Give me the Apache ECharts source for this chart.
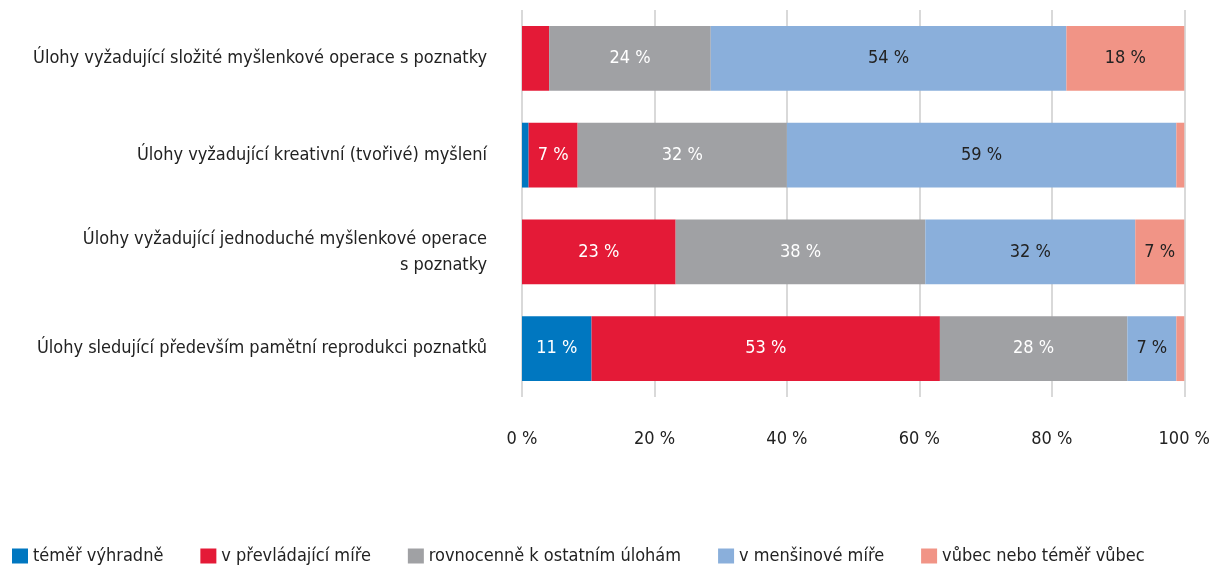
<!DOCTYPE html>
<html>
<head>
<meta charset="utf-8">
<script src="https://cdn.jsdelivr.net/npm/echarts@6/dist/echarts.min.js"></script>
<style>
  html, body { margin: 0; padding: 0; background: #fff; }
  #chart { width: 1213px; height: 570px; }
</style>
</head>
<body>
<div id="chart"></div>
<script>
const categories = [
  'Úlohy vyžadující složité myšlenkové operace s poznatky',
  'Úlohy vyžadující kreativní (tvořivé) myšlení',
  'Úlohy vyžadující jednoduché myšlenkové operace\ns poznatky',
  'Úlohy sledující především pamětní reprodukci poznatků'
]
const seriesNames = [
  'téměř výhradně',
  'v převládající míře',
  'rovnocenně k ostatním úlohám',
  'v menšinové míře',
  'vůbec nebo téměř vůbec'
]
const temerVyhradne = [0, 1.0, 0, 10.5]
const vPrevladajici = [4.1, 7.4, 23.2, 52.6]
const rovnocenne = [24.4, 31.6, 37.7, 28.3]
const vMensinove = [53.7, 58.8, 31.7, 7.4]
const vubecNe = [17.8, 1.2, 7.4, 1.2]
const xTicks = [0, 20, 40, 60, 80, 100]

const FONT = "'Liberation Sans Narrow', 'DejaVu Sans Condensed', sans-serif"
const colors = ['#0077c0', '#e41a37', '#a0a1a4', '#8aafdb', '#f19486']
const labelColors = ['#fff', '#fff', '#fff', '#222', '#222']
const values = [temerVyhradne, vPrevladajici, rovnocenne, vMensinove, vubecNe]

const chart = echarts.init(document.getElementById('chart'))

chart.setOption({
  animation: false,
  color: colors,
  textStyle: { fontFamily: FONT },
  grid: { left: 522, right: 26, top: 10, bottom: 173 },
  legend: {
    left: 7,
    bottom: 0,
    itemWidth: 16,
    itemHeight: 15,
    itemGap: 37,
    icon: 'rect',
    textStyle: { fontFamily: FONT, fontSize: 18, color: '#222' },
    data: seriesNames
  },
  xAxis: {
    type: 'value',
    min: xTicks[0],
    max: xTicks[xTicks.length - 1],
    interval: 20,
    axisLine: { show: false },
    axisTick: { show: false },
    splitLine: { lineStyle: { color: '#d9d9d9', width: 2 } },
    axisLabel: {
      formatter: v => v + ' %',
      fontFamily: FONT,
      fontSize: 18,
      color: '#222',
      margin: 33
    }
  },
  yAxis: {
    type: 'category',
    inverse: true,
    data: categories,
    axisLine: { show: false },
    axisTick: { show: false },
    axisLabel: {
      fontFamily: FONT,
      fontSize: 18,
      color: '#222',
      margin: 35,
      lineHeight: 26
    }
  },
  series: seriesNames.map((name, i) => ({
    name,
    type: 'bar',
    stack: 'total',
    barWidth: '67%',
    data: values[i],
    label: {
      show: true,
      position: 'inside',
      fontFamily: FONT,
      fontSize: 18,
      color: labelColors[i],
      formatter: p => (p.value >= 5 ? Math.round(p.value) + ' %' : '')
    }
  }))
})
</script>
</body>
</html>
